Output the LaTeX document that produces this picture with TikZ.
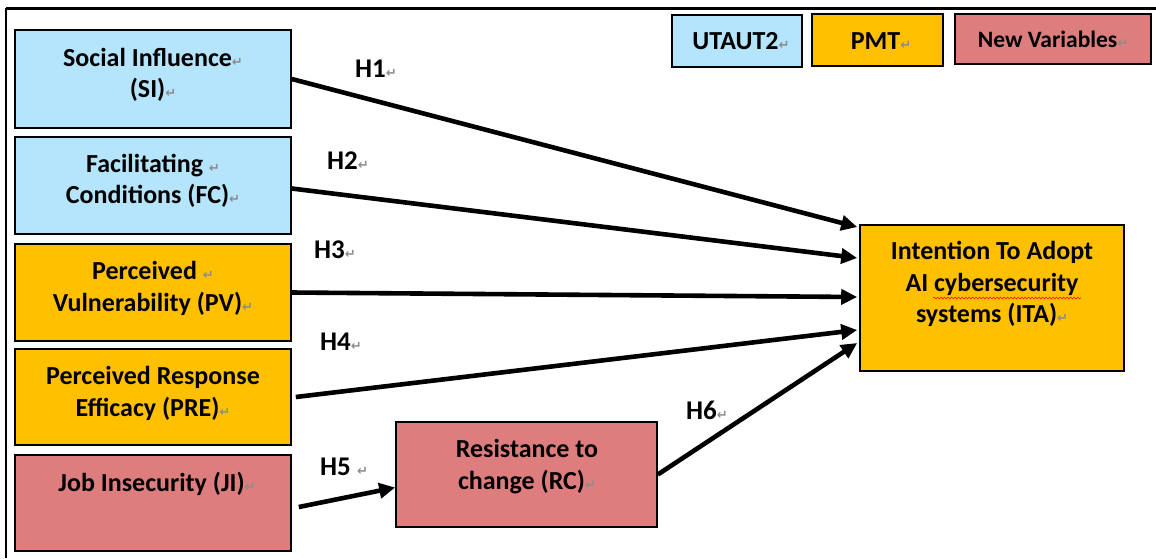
\documentclass[tikz,border=0pt]{standalone}
\usepackage{fontspec}
\setmainfont{Carlito}
\newfontfamily\dejavu{DejaVu Sans}
\usetikzlibrary{arrows.meta,decorations.pathmorphing}
\definecolor{utblue}{RGB}{180,229,252}
\definecolor{pmtorange}{RGB}{255,192,0}
\definecolor{newred}{RGB}{221,125,125}
\definecolor{markgray}{RGB}{140,140,140}
\newcommand{\parmark}{{\dejavu\fontsize{13}{13}\selectfont\color{markgray}↵}}
\begin{document}
\begin{tikzpicture}[x=1pt,y=-1pt,
  box/.style={draw=black,line width=1.6pt,inner sep=0pt},
  txt/.style={font=\bfseries\fontsize{26}{31.5}\selectfont,align=center,inner sep=0pt},
  hyp/.style={font=\bfseries\fontsize{27}{30}\selectfont,inner sep=0pt,anchor=base west},
  arr/.style={line width=4.6pt,-{Triangle[length=16pt,width=15pt]}}]
\useasboundingbox (0,0) rectangle (1156,558);
% frame
\draw[line width=3pt] (6,8) -- (1156,8);
\draw[line width=1.5pt] (6,8) -- (6,558);
% boxes
\node[box,fill=utblue,minimum width=276pt,minimum height=98pt] (si) at (153,79) {};
\node[box,fill=utblue,minimum width=276pt,minimum height=97pt] (fc) at (153,185.5) {};
\node[box,fill=pmtorange,minimum width=276pt,minimum height=97pt] (pv) at (153,292.5) {};
\node[box,fill=pmtorange,minimum width=276pt,minimum height=96pt] (pre) at (153,397) {};
\node[box,fill=newred,minimum width=276pt,minimum height=96pt] (ji) at (153,503) {};
\node[box,fill=newred,minimum width=261pt,minimum height=105pt] (rc) at (526.5,474.5) {};
\node[box,fill=pmtorange,minimum width=264pt,minimum height=146pt] (ita) at (992,298) {};
\node[box,fill=utblue,minimum width=130pt,minimum height=52pt] (lg1) at (737,41) {};
\node[box,fill=pmtorange,minimum width=131pt,minimum height=52pt] (lg2) at (877.5,40) {};
\node[box,fill=newred,minimum width=196pt,minimum height=50pt] (lg3) at (1053,39) {};
% texts
\node[txt] (si-t) at (153,75) {Social Influence\parmark\\(SI)\parmark};
\node[txt] (fc-t) at (153,181) {Facilitating \parmark\\Conditions (FC)\parmark};
\node[txt] (pv-t) at (153,288.5) {Perceived \parmark\\Vulnerability (PV)\parmark};
\node[txt] (pre-t) at (153,393.5) {Perceived Response\\Efficacy (PRE)\parmark};
\node[txt] (ji-t) at (157,484) {Job Insecurity (JI)\parmark};
\node[txt] (rc-t) at (527,466.5) {Resistance to\\change (RC)\parmark};
\node[txt] (ita-t) at (992,284) {Intention To Adopt\\AI cybersecurity\\systems (ITA)\parmark};
\node[txt] (lg1-t) at (741,41) {UTAUT2\parmark};
\node[txt] (lg2-t) at (881,41) {PMT\parmark};
\node[txt,font=\bfseries\fontsize{23.5}{28}\selectfont] (lg3-t) at (1053,39) {New Variables\parmark};
% spell-check underline
\draw[red,line width=0.6pt,decorate,decoration={snake,amplitude=0.9pt,segment length=3.5pt}] (933,298) -- (1081,298);
% hypothesis labels
\node[hyp] (h1) at (355,77) {H1\parmark};
\node[hyp] (h2) at (327,169) {H2\parmark};
\node[hyp] (h3) at (314,258) {H3\parmark};
\node[hyp] (h4) at (320,350) {H4\parmark};
\node[hyp] (h5) at (320,475) {H5 \parmark};
\node[hyp] (h6) at (686,419) {H6\parmark};
% arrows
\draw[arr] (si.east) -- ([yshift=71pt,xshift=-2pt]ita.west);
\draw[arr] ([yshift=-3pt]fc.east) -- ([yshift=40pt,xshift=-2pt]ita.west);
\draw[arr] (pv.east) -- ([yshift=1pt,xshift=-2pt]ita.west);
\draw[arr] ([xshift=4pt]pre.east) -- ([yshift=-32pt,xshift=-2pt]ita.west);
\draw[arr] (rc.east) -- ([yshift=-45pt,xshift=-2pt]ita.west);
\draw[arr] ([xshift=7pt,yshift=-4pt]ji.east) -- ([yshift=-13pt]rc.west);
\end{tikzpicture}
\end{document}
